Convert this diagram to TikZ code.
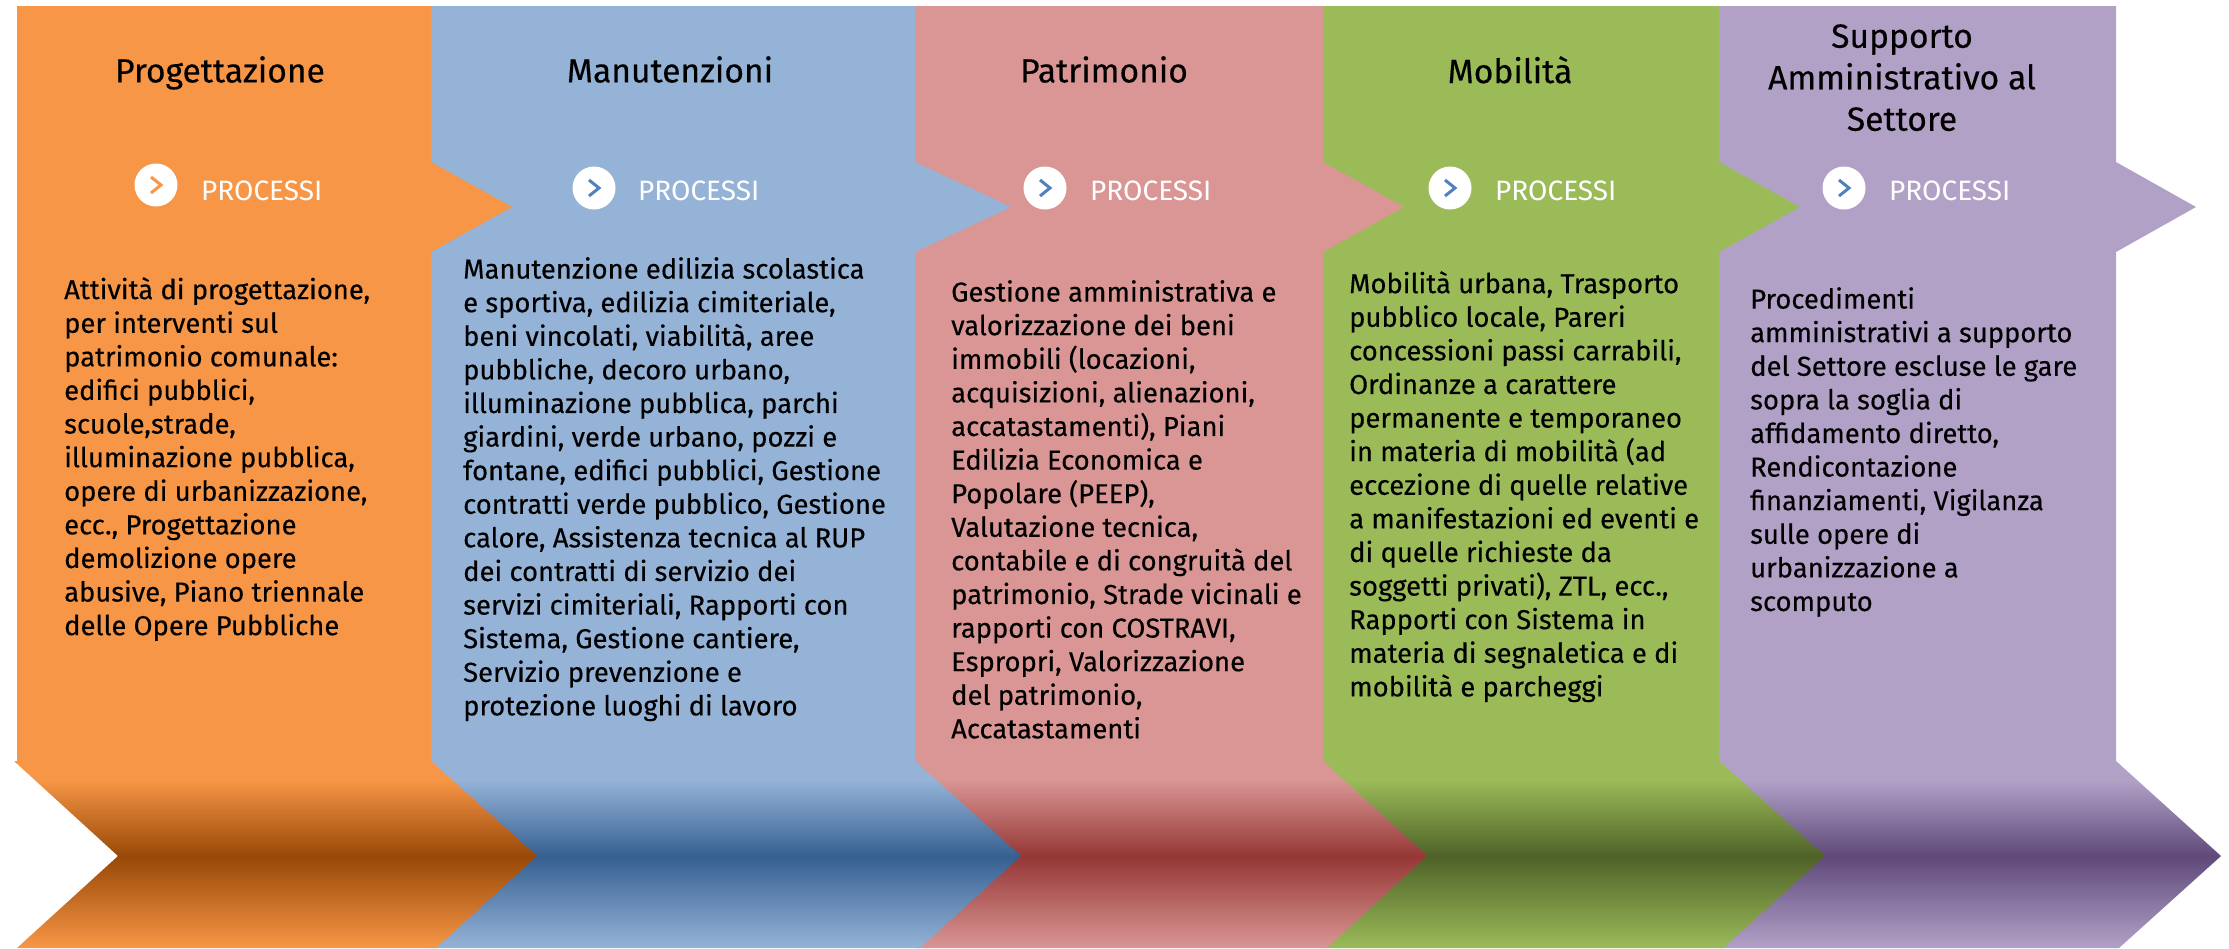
\documentclass[tikz,border=0pt]{standalone}
\usepackage{fontspec}
\setmainfont{Fira Sans}
\newfontfamily\headfont[FakeBold=0.3]{Fira Sans}
\definecolor{orangebase}{HTML}{F79646}
\definecolor{orangedark}{HTML}{984807}
\definecolor{bluebase}{HTML}{95B3D7}
\definecolor{bluedark}{HTML}{366092}
\definecolor{pinkbase}{HTML}{D99694}
\definecolor{pinkdark}{HTML}{953735}
\definecolor{greenbase}{HTML}{9BBB59}
\definecolor{greendark}{HTML}{4F6228}
\definecolor{purplebase}{HTML}{B2A1C7}
\definecolor{purpledark}{HTML}{5F497A}
\definecolor{iconblue}{HTML}{4F81BD}
\pgfdeclareverticalshading{orangeband}{100bp}{color(0bp)=(orangebase); color(25bp)=(orangebase); color(49.5bp)=(orangedark); color(70bp)=(orangebase); color(100bp)=(orangebase)}
\pgfdeclareverticalshading{blueband}{100bp}{color(0bp)=(bluebase); color(25bp)=(bluebase); color(49.5bp)=(bluedark); color(70bp)=(bluebase); color(100bp)=(bluebase)}
\pgfdeclareverticalshading{pinkband}{100bp}{color(0bp)=(pinkbase); color(25bp)=(pinkbase); color(49.5bp)=(pinkdark); color(70bp)=(pinkbase); color(100bp)=(pinkbase)}
\pgfdeclareverticalshading{greenband}{100bp}{color(0bp)=(greenbase); color(25bp)=(greenbase); color(49.5bp)=(greendark); color(70bp)=(greenbase); color(100bp)=(greenbase)}
\pgfdeclareverticalshading{purpleband}{100bp}{color(0bp)=(purplebase); color(25bp)=(purplebase); color(49.5bp)=(purpledark); color(70bp)=(purplebase); color(100bp)=(purplebase)}
\begin{document}
\begin{tikzpicture}
  [
    x=1pt,y=-1pt,
    title/.style={anchor=north,inner sep=0pt,align=center,font=\headfont\fontsize{33.6}{41.5}\selectfont,text=black},
    process/.style={anchor=west,inner sep=0pt,font=\fontsize{28}{28}\selectfont,text=white},
    body/.style={anchor=north west,inner sep=0pt,align=left,font=\headfont\fontsize{27.4}{33.6}\selectfont,text=black},
    badge/.style={circle,fill=white,minimum size=43pt,inner sep=0pt},
    chevron/.style={line width=3pt,miter limit=4},
  ]
  \useasboundingbox (0,0) rectangle (2229,948);

  \fill[purplebase] (1719,6) -- (2116,6) -- (2116,162) -- (2196,207) -- (2116,252) -- (2116,761) -- (1719,761) -- cycle;
  \fill[greenbase] (1323,6) -- (1719,6) -- (1719,162) -- (1800,207) -- (1719,252) -- (1719,761) -- (1323,761) -- cycle;
  \fill[pinkbase] (915,6) -- (1323,6) -- (1323,162) -- (1404,207) -- (1323,252) -- (1323,761) -- (915,761) -- cycle;
  \fill[bluebase] (431,6) -- (915,6) -- (915,162) -- (1011,207) -- (915,252) -- (915,761) -- (431,761) -- cycle;
  \fill[orangebase] (17,6) -- (431,6) -- (431,162) -- (512,207) -- (431,252) -- (431,761) -- (17,761) -- cycle;

  \shade[shading=purpleband] (1719,761) -- (2116,761) -- (2221,856) -- (2119,948) -- (1719,948) -- cycle;
  \shade[shading=greenband] (1323,761) -- (1719,761) -- (1825,856) -- (1723,948) -- (1323,948) -- cycle;
  \shade[shading=pinkband] (915,761) -- (1323,761) -- (1427,856) -- (1327,948) -- (915,948) -- cycle;
  \shade[shading=blueband] (431,761) -- (915,761) -- (1021,856) -- (920,948) -- (431,948) -- cycle;
  \shade[shading=orangeband] (14,761) -- (431,761) -- (537,856) -- (436,948) -- (17,948) -- (118,856) -- cycle;

  \node at (220,56) [title] (progettazione) {Progettazione};
  \node at (670,56) [title] (manutenzioni) {Manutenzioni};
  \node at (1104,56) [title] (patrimonio) {Patrimonio};
  \node at (1510,56) [title] (mobilita) {Mobilità};
  \node at (1902,24) [title] (supporto) {Supporto\\Amministrativo al\\Settore};

  \node at (156,185) [badge] (badgeA) {};
  \node at (594,188) [badge] (badgeB) {};
  \node at (1045,188) [badge] (badgeC) {};
  \node at (1450,188) [badge] (badgeD) {};
  \node at (1844,188) [badge] (badgeE) {};
  \draw[chevron,orangebase] ([shift={(-5,-8)}]badgeA.center) -- ([shift={(5,0)}]badgeA.center) -- ([shift={(-5,8)}]badgeA.center);
  \draw[chevron,iconblue] ([shift={(-5,-8)}]badgeB.center) -- ([shift={(5,0)}]badgeB.center) -- ([shift={(-5,8)}]badgeB.center);
  \draw[chevron,iconblue] ([shift={(-5,-8)}]badgeC.center) -- ([shift={(5,0)}]badgeC.center) -- ([shift={(-5,8)}]badgeC.center);
  \draw[chevron,iconblue] ([shift={(-5,-8)}]badgeD.center) -- ([shift={(5,0)}]badgeD.center) -- ([shift={(-5,8)}]badgeD.center);
  \draw[chevron,iconblue] ([shift={(-5,-8)}]badgeE.center) -- ([shift={(5,0)}]badgeE.center) -- ([shift={(-5,8)}]badgeE.center);

  \node at (201,191) [process] (processA) {PROCESSI};
  \node at (638,191) [process] (processB) {PROCESSI};
  \node at (1090,191) [process] (processC) {PROCESSI};
  \node at (1495,191) [process] (processD) {PROCESSI};
  \node at (1889,191) [process] (processE) {PROCESSI};

  \node at (64,277) [body] (bodyA) {Attività di progettazione,\\per interventi sul\\patrimonio comunale:\\edifici pubblici,\\scuole,strade,\\illuminazione pubblica,\\opere di urbanizzazione,\\ecc., Progettazione\\demolizione opere\\abusive, Piano triennale\\delle Opere Pubbliche};
  \node at (463,257) [body] (bodyB) {Manutenzione edilizia scolastica\\e sportiva, edilizia cimiteriale,\\beni vincolati, viabilità, aree\\pubbliche, decoro urbano,\\illuminazione pubblica, parchi\\giardini, verde urbano, pozzi e\\fontane, edifici pubblici, Gestione\\contratti verde pubblico, Gestione\\calore, Assistenza tecnica al RUP\\dei contratti di servizio dei\\servizi cimiteriali, Rapporti con\\Sistema, Gestione cantiere,\\Servizio prevenzione e\\protezione luoghi di lavoro};
  \node at (951,280) [body] (bodyC) {Gestione amministrativa e\\valorizzazione dei beni\\immobili (locazioni,\\acquisizioni, alienazioni,\\accatastamenti), Piani\\Edilizia Economica e\\Popolare (PEEP),\\Valutazione tecnica,\\contabile e di congruità del\\patrimonio, Strade vicinali e\\rapporti con COSTRAVI,\\Espropri, Valorizzazione\\del patrimonio,\\Accatastamenti};
  \node at (1349,271) [body] (bodyD) {Mobilità urbana, Trasporto\\pubblico locale, Pareri\\concessioni passi carrabili,\\Ordinanze a carattere\\permanente e temporaneo\\in materia di mobilità (ad\\eccezione di quelle relative\\a manifestazioni ed eventi e\\di quelle richieste da\\soggetti privati), ZTL, ecc.,\\Rapporti con Sistema in\\materia di segnaletica e di\\mobilità e parcheggi};
  \node at (1750,287) [body] (bodyE) {Procedimenti\\amministrativi a supporto\\del Settore escluse le gare\\sopra la soglia di\\affidamento diretto,\\Rendicontazione\\finanziamenti, Vigilanza\\sulle opere di\\urbanizzazione a\\scomputo};
\end{tikzpicture}
\end{document}
